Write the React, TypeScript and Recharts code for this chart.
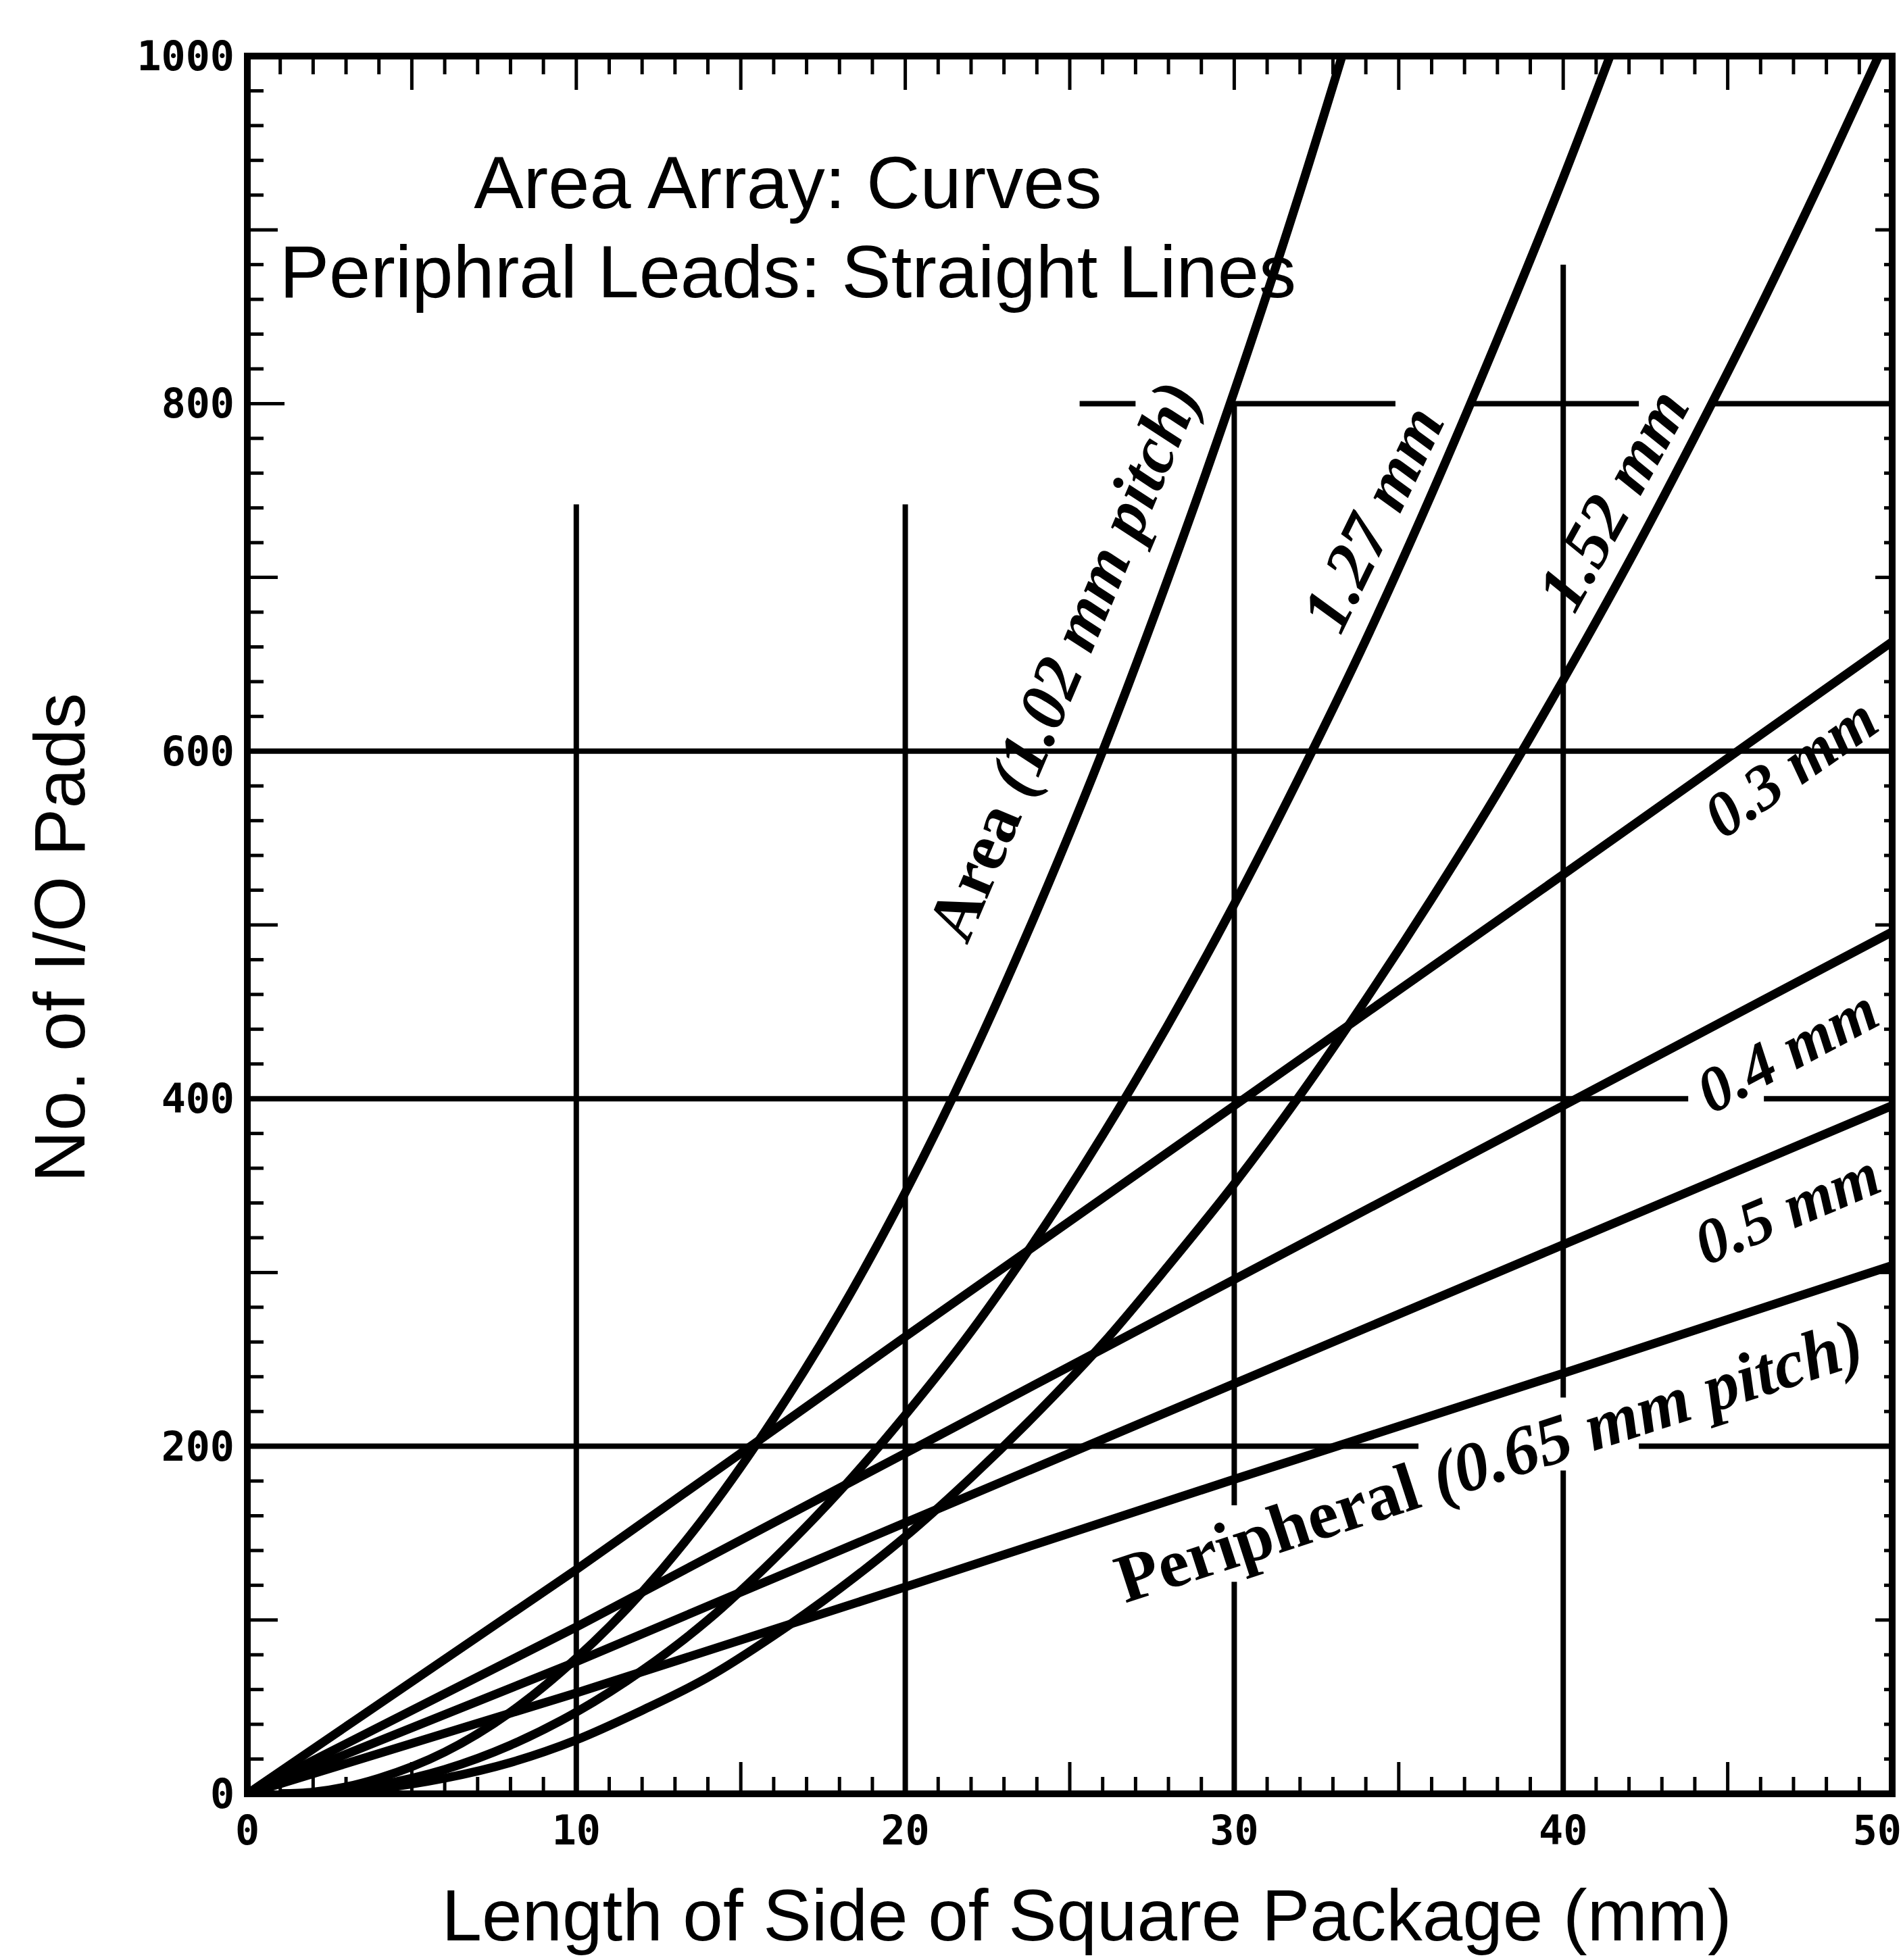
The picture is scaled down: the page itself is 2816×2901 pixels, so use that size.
import {
  LineChart,
  Line,
  XAxis,
  YAxis,
  ReferenceLine,
  ReferenceDot,
} from "recharts";

const sideMm = [1, 2, 3, 4, 6, 8, 10, 12, 14, 16, 18, 20, 22, 24, 26, 28, 30, 32, 34, 36, 38, 40, 42, 44, 46, 48, 50];

// area array curves, no. of pads (null = off the top of the chart)
const area102 = [0, 1, 4, 9, 24, 47, 78, 116, 162, 216, 277, 346, 423, 508, 600, 700, 807, 922, 1045, null, null, null, null, null, null, null, null];
const area127 = [0, 0, 2, 5, 14, 28, 47, 71, 100, 135, 174, 218, 266, 320, 379, 443, 512, 586, 664, 748, 837, 930, 1029, null, null, null, null];
const area152 = [0, 0, 1, 3, 9, 18, 31, 48, 67, 91, 118, 148, 182, 219, 259, 304, 351, 402, 457, 515, 576, 641, 709, 781, 856, 935, 1017];

// peripheral leads are straight lines
const periphX = [0, 10, 20, 30, 40, 50];
const periph030 = [0, 129, 263, 396, 529, 663];
const periph040 = [0, 96, 196, 296, 396, 496];
const periph050 = [0, 76, 156, 236, 316, 396];
const periph065 = [0, 58, 119, 181, 242, 304];

const xTickLabels = [0, 10, 20, 30, 40, 50];
const yTickLabels = [0, 200, 400, 600, 800, 1000];

const xMinorTicks = Array.from({ length: 51 }, (_, i) => i);
const yMinorTicks = Array.from({ length: 51 }, (_, i) => i * 20);

const toPoints = (xs: number[], ys: (number | null)[]) =>
  xs
    .map((x, i) => ({ x, pads: ys[i] }))
    .filter((p) => p.pads !== null);

const series = [
  { name: "area102", xs: sideMm, ys: area102, smooth: true },
  { name: "area127", xs: sideMm, ys: area127, smooth: true },
  { name: "area152", xs: sideMm, ys: area152, smooth: true },
  { name: "p030", xs: periphX, ys: periph030, smooth: false },
  { name: "p040", xs: periphX, ys: periph040, smooth: false },
  { name: "p050", xs: periphX, ys: periph050, smooth: false },
  { name: "p065", xs: periphX, ys: periph065, smooth: false },
];

// grid is drawn in pieces, with gaps where the labels sit
const gridSegments: [number, number, number, number][] = [
  [10, 0, 10, 742],
  [20, 0, 20, 742],
  [30, 0, 30, 122],
  [30, 166, 30, 800],
  [40, 0, 40, 186],
  [40, 228, 40, 880],
  [0, 200, 35.6, 200],
  [42.3, 200, 50, 200],
  [0, 400, 43.8, 400],
  [46.1, 400, 50, 400],
  [0, 600, 50, 600],
  [25.3, 800, 27.0, 800],
  [29.9, 800, 34.9, 800],
  [37.2, 800, 42.3, 800],
  [44.5, 800, 50, 800],
];

const curveLabels = [
  { plain: "Area ", italic: "(1.02 mm pitch)", x: 24.8, y: 652, angle: 67, size: 100 },
  { plain: "", italic: "1.27 mm", x: 34.2, y: 734, angle: 64, size: 100 },
  { plain: "", italic: "1.52 mm", x: 41.5, y: 745, angle: 61, size: 100 },
  { plain: "", italic: "0.3 mm", x: 46.9, y: 591, angle: 35, size: 94 },
  { plain: "", italic: "0.4 mm", x: 46.8, y: 428, angle: 28, size: 94 },
  { plain: "", italic: "0.5 mm", x: 46.8, y: 337, angle: 23, size: 94 },
  { plain: "Peripheral ", italic: "(0.65 mm pitch)", x: 37.75, y: 192, angle: 18, size: 102 },
];

const tickFont = {
  fontFamily: "DejaVu Sans Mono",
  fontWeight: 700,
  fontSize: 60,
  fill: "#000",
};
const sansFont = { fontFamily: "Liberation Sans", fill: "#000" };
const frame = { stroke: "#000", strokeWidth: 10, strokeLinecap: "square" as const };

const BottomTick = (props: any) => {
  const { x, y, payload } = props;
  const v = payload.value;
  const len = v % 10 === 0 ? 50 : v % 5 === 0 ? 47 : 25;
  // the last label is pulled in so it stays on the page
  const last = v === 50;
  return (
    <g>
      <line x1={x} y1={y} x2={x} y2={y - len} stroke="#000" strokeWidth={5} />
      {xTickLabels.includes(v) && (
        <text
          x={last ? x + 14 : x}
          y={y + 75}
          textAnchor={last ? "end" : "middle"}
          {...tickFont}
        >
          {v}
        </text>
      )}
    </g>
  );
};

const TopTick = (props: any) => {
  const { x, y, payload } = props;
  const v = payload.value;
  const len = v % 5 === 0 ? 50 : 27;
  return <line x1={x} y1={y} x2={x} y2={y + len} stroke="#000" strokeWidth={5} />;
};

const LeftTick = (props: any) => {
  const { x, y, payload } = props;
  const v = payload.value;
  const len = v % 200 === 0 ? 55 : v % 100 === 0 ? 45 : 24;
  return (
    <g>
      <line x1={x} y1={y} x2={x + len} y2={y} stroke="#000" strokeWidth={5} />
      {yTickLabels.includes(v) && (
        <text x={x - 19} y={y} textAnchor="end" dominantBaseline="central" {...tickFont}>
          {v}
        </text>
      )}
    </g>
  );
};

const RightTick = (props: any) => {
  const { x, y, payload } = props;
  const v = payload.value;
  const len = v % 100 === 0 ? 25 : 12;
  return <line x1={x} y1={y} x2={x - len} y2={y} stroke="#000" strokeWidth={5} />;
};

const renderCurveLabel = (lbl: (typeof curveLabels)[number]) => (p: any) => (
  <text
    x={p.cx}
    y={p.cy}
    textAnchor="middle"
    dominantBaseline="central"
    transform={`rotate(${-lbl.angle}, ${p.cx}, ${p.cy})`}
    fontFamily="Liberation Serif"
    fontWeight={700}
    fontSize={lbl.size}
    fill="#000"
  >
    {lbl.plain && <tspan>{lbl.plain}</tspan>}
    <tspan fontStyle="italic">{lbl.italic}</tspan>
  </text>
);

const renderTitle = (p: any) => (
  <g>
    <text x={p.cx} y={p.cy} textAnchor="middle" fontSize={110} {...sansFont}>
      Area Array: Curves
    </text>
    <text x={p.cx} y={p.cy + 132} textAnchor="middle" fontSize={110} {...sansFont}>
      Periphral Leads: Straight Lines
    </text>
  </g>
);

const renderYTitle = () => (
  <text
    x={125}
    y={1388}
    textAnchor="middle"
    transform="rotate(-90, 125, 1388)"
    fontSize={106}
    {...sansFont}
  >
    No. of I/O Pads
  </text>
);

const renderXTitle = () => (
  <text x={1608} y={2872} textAnchor="middle" fontSize={107} {...sansFont}>
    Length of Side of Square Package (mm)
  </text>
);

export default function App() {
  return (
    <div
      style={{
        position: "absolute",
        left: 0,
        top: 0,
        width: 2816,
        height: 2901,
        background: "#fff",
      }}
    >
      <LineChart
        width={2816}
        height={2901}
        margin={{ top: 0, right: 0, bottom: 0, left: 0 }}
      >
        <XAxis
          dataKey="x"
          type="number"
          domain={[0, 50]}
          ticks={xMinorTicks}
          interval={0}
          allowDataOverflow
          height={246}
          tickSize={0}
          tickMargin={0}
          tickLine={false}
          axisLine={frame}
          tick={BottomTick}
          label={renderXTitle}
        />
        <XAxis
          xAxisId="top"
          orientation="top"
          dataKey="x"
          type="number"
          domain={[0, 50]}
          ticks={xMinorTicks}
          interval={0}
          allowDataOverflow
          height={83}
          tickSize={0}
          tickMargin={0}
          tickLine={false}
          axisLine={frame}
          tick={TopTick}
        />
        <YAxis
          type="number"
          domain={[0, 1000]}
          ticks={yMinorTicks}
          interval={0}
          allowDataOverflow
          width={366}
          tickSize={0}
          tickMargin={0}
          tickLine={false}
          axisLine={frame}
          tick={LeftTick}
          label={renderYTitle}
        />
        <YAxis
          yAxisId="right"
          orientation="right"
          type="number"
          domain={[0, 1000]}
          ticks={yMinorTicks}
          interval={0}
          allowDataOverflow
          width={16}
          tickSize={0}
          tickMargin={0}
          tickLine={false}
          axisLine={frame}
          tick={RightTick}
        />

        {gridSegments.map(([x1, y1, x2, y2], i) => (
          <ReferenceLine
            key={`g${i}`}
            segment={[
              { x: x1, y: y1 },
              { x: x2, y: y2 },
            ]}
            stroke="#000"
            strokeWidth={8}
          />
        ))}

        {series.map((s) => (
          <Line
            key={s.name}
            data={toPoints(s.xs, s.ys)}
            dataKey="pads"
            type={s.smooth ? "monotone" : "linear"}
            stroke="#000"
            strokeWidth={13}
            dot={false}
            activeDot={false}
            isAnimationActive={false}
          />
        ))}

        {curveLabels.map((lbl) => (
          <ReferenceDot
            key={lbl.italic}
            x={lbl.x}
            y={lbl.y}
            r={1}
            shape={renderCurveLabel(lbl)}
          />
        ))}

        <ReferenceDot x={16.43} y={912.5} r={1} shape={renderTitle} />
      </LineChart>
    </div>
  );
}
